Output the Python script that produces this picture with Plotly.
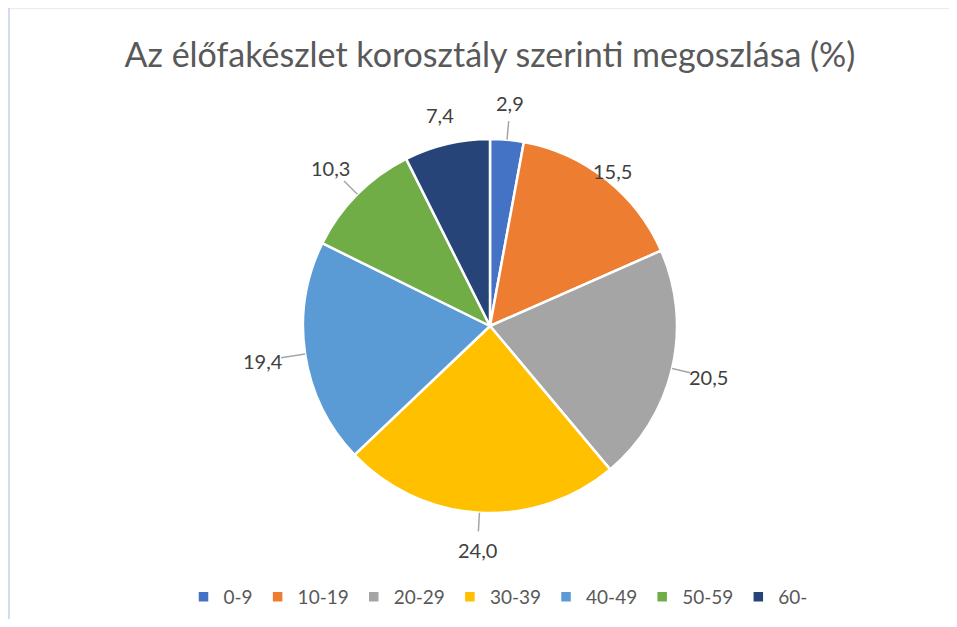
import math
import plotly.graph_objects as go

# ---- data ----
categories = ["0-9", "10-19", "20-29", "30-39", "40-49", "50-59", "60-"]
values = [2.9, 15.5, 20.5, 24.0, 19.4, 10.3, 7.4]
title_text = "Az élőfakészlet korosztály szerinti megoszlása (%)"

# ---- style ----
colors = ["#4472C4", "#ED7D31", "#A5A5A5", "#FFC000", "#5B9BD5", "#70AD47", "#264478"]
label_radius = [1.2, 1.06, 1.2, 1.2, 1.23, 1.2, 1.16]
show_leader = [True, False, True, True, True, True, False]

OFF = 8                      # browser body margin
W, H = 957 - 2 * OFF, 627 - 2 * OFF
cx, cy, R = 490, 326, 187    # pie centre / radius in screen pixels


def to_paper(px, py):
    return (px - OFF) / W, 1 - (py - OFF) / H


dx0, dy0 = to_paper(cx - R, cy + R)
dx1, dy1 = to_paper(cx + R, cy - R)

fig = go.Figure(go.Pie(
    labels=categories,
    values=values,
    sort=False,
    direction="clockwise",
    rotation=0,
    textinfo="none",
    hoverinfo="label+value",
    marker=dict(colors=colors, line=dict(color="white", width=2.5)),
    domain=dict(x=[dx0, dx1], y=[dy0, dy1]),
))

total = sum(values)
cum = 0.0
annotations = []
shapes = []
for v, f, lead in zip(values, label_radius, show_leader):
    mid = (cum + v / 2) / total * 2 * math.pi
    cum += v
    s, c = math.sin(mid), math.cos(mid)
    lx, ly = to_paper(cx + R * f * s, cy - R * f * c)
    annotations.append(dict(
        x=lx, y=ly, xref="paper", yref="paper", showarrow=False,
        text=f"{v:.1f}".replace(".", ","),
        font=dict(family="Lato", size=20, color="#404040"),
        xanchor="center", yanchor="middle",
    ))
    if lead:
        x0, y0 = to_paper(cx + R * 1.0 * s, cy - R * 1.0 * c)
        x1, y1 = to_paper(cx + R * (f - 0.1) * s, cy - R * (f - 0.1) * c)
        shapes.append(dict(type="line", xref="paper", yref="paper",
                           x0=x0, y0=y0, x1=x1, y1=y1,
                           line=dict(color="#A6A6A6", width=1.5)))

# chart-area border (top and left edges)
bx, by = to_paper(9, 8)
shapes.append(dict(type="line", xref="paper", yref="paper",
                   x0=bx, x1=1, y0=by - 0.001, y1=by - 0.001,
                   line=dict(color="#E8EAF0", width=1)))
shapes.append(dict(type="line", xref="paper", yref="paper",
                   x0=bx, x1=bx, y0=0, y1=by,
                   line=dict(color="#C3D0EA", width=1.5)))

tx, ty = to_paper(490, 55)
lgx, lgy = to_paper(498, 597)

fig.update_layout(
    width=W, height=H,
    margin=dict(l=0, r=0, t=0, b=0),
    paper_bgcolor="white",
    plot_bgcolor="white",
    title=dict(text=title_text, x=tx, xanchor="center", y=ty, yanchor="middle",
               font=dict(family="Lato", size=34, color="#595959")),
    showlegend=True,
    legend=dict(orientation="h", x=lgx, xanchor="center", y=lgy, yanchor="middle",
                font=dict(family="Lato", size=19, color="#595959"), itemwidth=30),
    annotations=annotations,
    shapes=shapes,
)

fig.write_html("out.html", config={"displayModeBar": False})
